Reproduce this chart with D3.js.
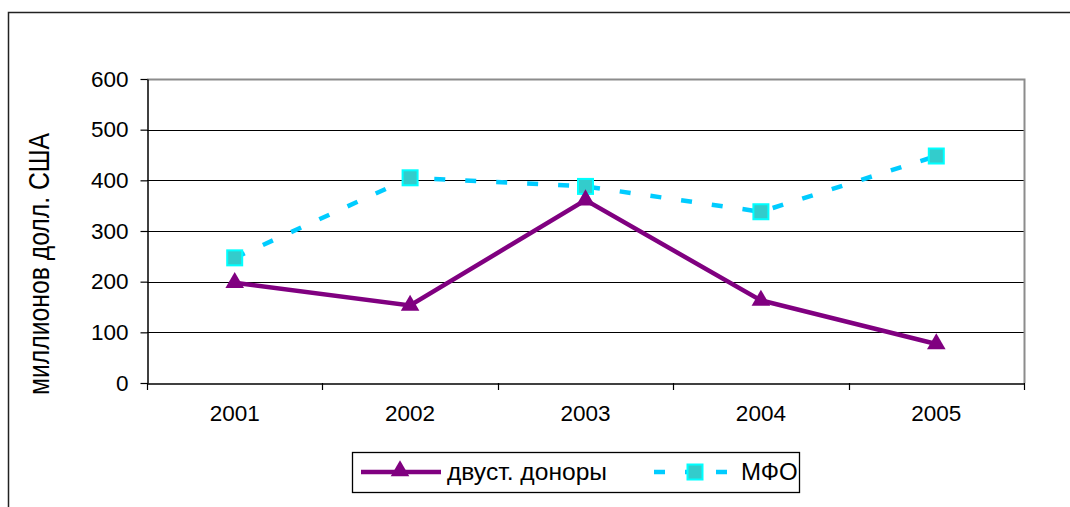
<!DOCTYPE html>
<html>
<head>
<meta charset="utf-8">
<script src="https://cdn.jsdelivr.net/npm/d3@7"></script>
<style>
  body { margin: 0; background: #fff; }
  svg { display: block; font-family: "Liberation Sans", Arial, sans-serif; }
</style>
</head>
<body>
<svg width="1070" height="507"></svg>
<script>
var years = ["2001", "2002", "2003", "2004", "2005"];
var donors = [198, 153, 361, 163, 77];
var mfo = [247, 405, 388, 338, 448];
var yTicks = [0, 100, 200, 300, 400, 500, 600];
var yTitle = "миллионов долл. США";
var seriesNames = ["двуст. доноры", "МФО"];

var svg = d3.select("svg");
var pLeft = 147, pRight = 1024, pTop = 79, pBottom = 383;

// outer chart frame
svg.append("rect")
    .attr("x", 8.5).attr("y", 12.5)
    .attr("width", 1080).attr("height", 520)
    .attr("fill", "#fff").attr("stroke", "#222").attr("stroke-width", 1.5);

var x = d3.scaleBand().domain(years).range([pLeft, pRight]).padding(0);
var y = d3.scaleLinear().domain([0, 600]).range([pBottom, pTop]);

// gridlines
svg.append("g").selectAll("line")
    .data(yTicks.filter(function (d) { return d > 0 && d < 600; }))
    .enter().append("line")
    .attr("x1", pLeft).attr("x2", pRight)
    .attr("y1", function (d) { return Math.round(y(d)) + 0.5; })
    .attr("y2", function (d) { return Math.round(y(d)) + 0.5; })
    .attr("stroke", "#000").attr("stroke-width", 1);

// plot area top / right border (grey)
svg.append("path")
    .attr("d", "M" + pLeft + "," + (pTop + 0.5) + "H" + (pRight + 0.5) + "V" + pBottom)
    .attr("fill", "none").attr("stroke", "#8c8c8c").attr("stroke-width", 2);

// y axis
var yAxis = svg.append("g")
    .attr("transform", "translate(" + (pLeft + 0.5) + ",0)")
    .call(d3.axisLeft(y).tickValues(yTicks).tickSize(7).tickSizeOuter(0).tickPadding(12));
yAxis.select(".domain").attr("stroke", "#000").attr("stroke-width", 1.5);
yAxis.selectAll(".tick line").attr("stroke", "#000").attr("stroke-width", 1.2);
yAxis.selectAll("text").attr("font-size", "22.5px").attr("fill", "#000")
    .attr("font-family", "Liberation Sans, Arial, sans-serif");

// x axis
var xAxis = svg.append("g")
    .attr("transform", "translate(0," + (pBottom + 0.5) + ")")
    .call(d3.axisBottom(x).tickSize(0).tickSizeOuter(0).tickPadding(22));
xAxis.select(".domain").attr("stroke", "#000").attr("stroke-width", 1.5);
xAxis.selectAll("text").attr("font-size", "22.5px").attr("fill", "#000")
    .attr("font-family", "Liberation Sans, Arial, sans-serif");

// category boundary ticks
var bounds = years.map(function (d) { return x(d); }).concat([x(years[years.length - 1]) + x.bandwidth()]);
svg.append("g").selectAll("line")
    .data(bounds).enter().append("line")
    .attr("x1", function (d) { return Math.round(d) + 0.5; })
    .attr("x2", function (d) { return Math.round(d) + 0.5; })
    .attr("y1", pBottom).attr("y2", pBottom + 7)
    .attr("stroke", "#000").attr("stroke-width", 1.2);

// y title (tall, narrow glyphs as in the original)
svg.append("text")
    .attr("transform", "translate(49,264) rotate(-90)")
    .attr("text-anchor", "middle")
    .attr("font-size", "29px")
    .attr("textLength", 262)
    .attr("lengthAdjust", "spacingAndGlyphs")
    .text(yTitle);

var cx = function (d, i) { return x(years[i]) + x.bandwidth() / 2; };
var line = d3.line().x(function (d, i) { return cx(d, i); }).y(function (d) { return y(d); });

var tri = d3.symbol().type(d3.symbolTriangle).size(150);

// MFO series
svg.append("path").datum(mfo)
    .attr("d", line)
    .attr("fill", "none").attr("stroke", "#00ccff").attr("stroke-width", 4.5)
    .attr("stroke-dasharray", "11,20");
svg.append("g").selectAll("rect")
    .data(mfo).enter().append("rect")
    .attr("x", function (d, i) { return cx(d, i) - 7.5; })
    .attr("y", function (d) { return y(d) - 7.5; })
    .attr("width", 15).attr("height", 15)
    .attr("fill", "#33cccc").attr("stroke", "#00ffff").attr("stroke-width", 2);

// donors series
svg.append("path").datum(donors)
    .attr("d", line)
    .attr("fill", "none").attr("stroke", "#800080").attr("stroke-width", 4.5);
svg.append("g").selectAll("path")
    .data(donors).enter().append("path")
    .attr("d", tri)
    .attr("transform", function (d, i) { return "translate(" + cx(d, i) + "," + y(d) + ")"; })
    .attr("fill", "#800080");

// legend
var lg = svg.append("g");
lg.append("rect")
    .attr("x", 352.5).attr("y", 452.5).attr("width", 447).attr("height", 40)
    .attr("fill", "#fff").attr("stroke", "#000").attr("stroke-width", 1.3);
lg.append("line")
    .attr("x1", 361).attr("x2", 441).attr("y1", 472).attr("y2", 472)
    .attr("stroke", "#800080").attr("stroke-width", 4.5);
lg.append("path").attr("d", tri)
    .attr("transform", "translate(400,471)").attr("fill", "#800080");
lg.append("text").attr("x", 447).attr("y", 480).attr("font-size", "24px")
    .attr("textLength", 160).attr("lengthAdjust", "spacingAndGlyphs")
    .text(seriesNames[0]);

lg.append("line")
    .attr("x1", 654).attr("x2", 727).attr("y1", 472).attr("y2", 472)
    .attr("stroke", "#00ccff").attr("stroke-width", 4.5)
    .attr("stroke-dasharray", "11,20");
lg.append("rect")
    .attr("x", 687.5).attr("y", 464.5).attr("width", 15).attr("height", 15)
    .attr("fill", "#33cccc").attr("stroke", "#00ffff").attr("stroke-width", 2);
lg.append("text").attr("x", 741).attr("y", 480).attr("font-size", "24px").text(seriesNames[1]);
</script>
</body>
</html>
